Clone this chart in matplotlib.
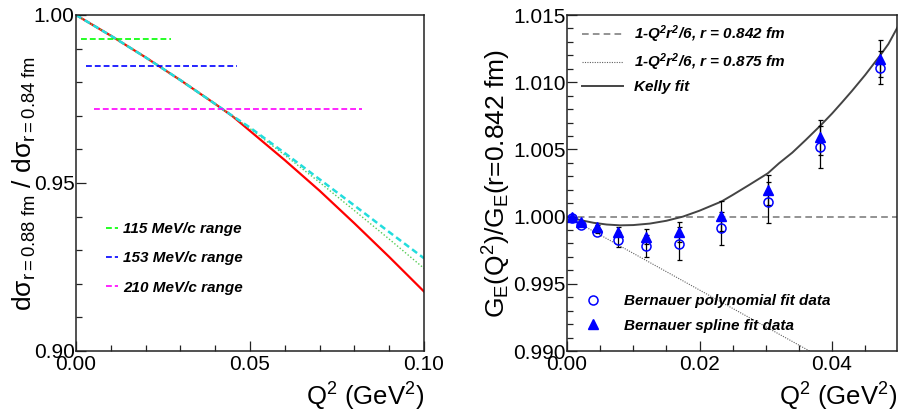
# cross section ratio and G_E ratio, two panels

import matplotlib
matplotlib.use("Agg")
import matplotlib.pyplot as plt
from matplotlib.ticker import MultipleLocator, FormatStrFormatter

plt.rcParams['font.family'] = ['Liberation Sans', 'DejaVu Sans']
plt.rcParams['mathtext.fontset'] = 'custom'
plt.rcParams['mathtext.rm'] = 'Liberation Sans'
plt.rcParams['mathtext.it'] = 'Liberation Sans:italic'
plt.rcParams['mathtext.bf'] = 'Liberation Sans:bold'
plt.rcParams['mathtext.default'] = 'regular'

# left panel: ratio of cross sections r=0.88 fm / r=0.84 fm
q2_left = [0.0, 0.01, 0.02, 0.03, 0.04, 0.045, 0.05, 0.06, 0.07, 0.08, 0.09, 0.10]
ratio_red = [1.0, 0.99385, 0.98739, 0.98061, 0.97352, 0.96985, 0.9655, 0.9568, 0.9477, 0.9380, 0.9280, 0.9177]
ratio_green = [1.0, 0.99385, 0.98739, 0.98061, 0.97352, 0.96990, 0.9662, 0.9583, 0.9502, 0.9418, 0.9333, 0.9246]
ratio_cyan = [1.0, 0.99385, 0.98739, 0.98061, 0.97352, 0.96995, 0.9665, 0.9589, 0.9511, 0.9433, 0.9354, 0.9276]

# momentum ranges: level, start, end
range_labels = ["115 MeV/c range", "153 MeV/c range", "210 MeV/c range"]
range_level = [0.9929, 0.9849, 0.9720]
range_start = [0.0014, 0.0028, 0.0053]
range_end = [0.0272, 0.0462, 0.0821]
range_colors = ["#00ff00", "#0000ff", "#ff00ff"]

# right panel: G_E ratio
q2_data = [0.0007, 0.0021, 0.0045, 0.0077, 0.0119, 0.0169, 0.0233, 0.0303, 0.0382, 0.0473]
poly_val = [0.99987, 0.99940, 0.99888, 0.99828, 0.99781, 0.99799, 0.99913, 1.00105, 1.00517, 1.01108]
poly_err = [0.00005, 0.0001, 0.0001, 0.00055, 0.00084, 0.0012, 0.00124, 0.00151, 0.00157, 0.00124]
spline_val = [1.00000, 0.99962, 0.99925, 0.99888, 0.99850, 0.99888, 1.00002, 1.00199, 1.00590, 1.01175]
spline_err = [0.00003, 0.00008, 0.0001, 0.00035, 0.00055, 0.00074, 0.00112, 0.00112, 0.00129, 0.00139]

q2_kelly = [0.0, 0.002, 0.004, 0.006, 0.008, 0.010, 0.0125, 0.015, 0.0175, 0.020,
            0.0215, 0.0233, 0.025, 0.0275, 0.0303, 0.032, 0.034, 0.036, 0.0383,
            0.040, 0.0415, 0.043, 0.045, 0.0473, 0.0485, 0.050]
kelly = [1.0, 0.99974, 0.99954, 0.99941, 0.99935, 0.99937, 0.99948, 0.99969, 1.0, 1.00044,
         1.00075, 1.00112, 1.00161, 1.00236, 1.00322, 1.00397, 1.00476, 1.00569, 1.00680,
         1.00767, 1.00850, 1.00935, 1.01054, 1.01202, 1.01284, 1.01420]

q2_flat = [0.0, 0.05]
flat = [1.0, 1.0]
q2_875 = [0.0, 0.0366]
val_875 = [1.0, 0.990]

fig = plt.figure(figsize=(8.98, 4.18), dpi=100)
ax1 = fig.add_axes([76 / 898, 1 - 351 / 418, 348 / 898, 336 / 418])
ax2 = fig.add_axes([567 / 898, 1 - 351 / 418, 330 / 898, 336 / 418])

legend_font = {'family': 'Liberation Sans', 'weight': 'bold', 'style': 'italic', 'size': 11}


def style_axis(ax):
    for s in ax.spines.values():
        s.set_linewidth(1.1)
        s.set_color('#222222')
    ax.tick_params(which='both', direction='in', top=False, right=False,
                   labelsize=15, width=0.9, color='#222222')
    ax.tick_params(which='major', length=7.5)
    ax.tick_params(which='minor', length=4.5)
    ax.tick_params(axis='y', pad=1)
    ax.tick_params(axis='x', pad=3)


# left panel
ax1.plot(q2_left, ratio_red, color='#ff0000', lw=1.6)
ax1.plot(q2_left, ratio_green, color='#55cc55', lw=1.0, ls=(0, (1, 1.5)))
ax1.plot(q2_left, ratio_cyan, color='#22dddd', lw=1.8, ls=(0, (2.5, 1.5)))
for lab, lev, x0, x1, c in zip(range_labels, range_level, range_start, range_end, range_colors):
    ax1.plot([x0, x1], [lev, lev], color=c, lw=1.2, ls=(0, (3.5, 1.8)), label=lab)

ax1.set_xlim(0, 0.1)
ax1.set_ylim(0.90, 1.00)
ax1.xaxis.set_major_locator(MultipleLocator(0.05))
ax1.xaxis.set_minor_locator(MultipleLocator(0.01))
ax1.yaxis.set_major_locator(MultipleLocator(0.05))
ax1.yaxis.set_minor_locator(MultipleLocator(0.01))
ax1.xaxis.set_major_formatter(FormatStrFormatter('%.2f'))
ax1.yaxis.set_major_formatter(FormatStrFormatter('%.2f'))
style_axis(ax1)

ax1.legend(loc='upper left', bbox_to_anchor=(0.086, 0.384), frameon=False, prop=legend_font,
           handlelength=0.8, handletextpad=0.35, labelspacing=1.0, borderpad=0, borderaxespad=0)

ax1.set_xlabel('Q$^{2}$ (GeV$^{2}$)', fontsize=18.5)
ax1.xaxis.set_label_coords(1.0, -0.09)
ax1.xaxis.label.set_ha('right')
ax1.set_ylabel('dσ$_{r=0.88\\ fm}$ / dσ$_{r=0.84\\ fm}$', fontsize=19)
ax1.yaxis.set_label_coords(-0.108, 0.5)

# right panel
ax2.plot(q2_flat, flat, color='#808080', lw=1.2, ls=(0, (4, 2.5)),
         label='1-Q$^{2}$r$^{2}$/6, r = 0.842 fm')
ax2.plot(q2_875, val_875, color='#606060', lw=0.8, ls=(0, (1, 1.2)),
         label='1-Q$^{2}$r$^{2}$/6, r = 0.875 fm')
ax2.plot(q2_kelly, kelly, color='#444444', lw=1.4, label='Kelly fit')
leg_top = ax2.legend(loc='upper left', bbox_to_anchor=(0.045, 0.975), frameon=False,
                     prop=legend_font, handlelength=2.7, handletextpad=0.7,
                     labelspacing=0.45, borderpad=0, borderaxespad=0)
ax2.add_artist(leg_top)

ax2.errorbar(q2_data, poly_val, yerr=poly_err, fmt='none', ecolor='black', elinewidth=0.9,
             capsize=1.8, capthick=0.9)
ax2.errorbar(q2_data, spline_val, yerr=spline_err, fmt='none', ecolor='black', elinewidth=0.9,
             capsize=1.8, capthick=0.9)
h1, = ax2.plot(q2_data, poly_val, ls='none', marker='o', ms=6.5, mfc='none', mec='#0000ff', mew=1.1)
h2, = ax2.plot(q2_data, spline_val, ls='none', marker='^', ms=6.8, color='#0000ff')
ax2.legend([h1, h2], ['Bernauer polynomial fit data', 'Bernauer spline fit data'],
           loc='upper left', bbox_to_anchor=(0.044, 0.17), frameon=False, prop=legend_font,
           handlelength=1.5, handletextpad=1.25, labelspacing=0.7, borderpad=0,
           borderaxespad=0, numpoints=1)

ax2.set_xlim(0, 0.0498)
ax2.set_ylim(0.990, 1.015)
ax2.xaxis.set_major_locator(MultipleLocator(0.02))
ax2.xaxis.set_minor_locator(MultipleLocator(0.005))
ax2.yaxis.set_major_locator(MultipleLocator(0.005))
ax2.yaxis.set_minor_locator(MultipleLocator(0.001))
ax2.xaxis.set_major_formatter(FormatStrFormatter('%.2f'))
ax2.yaxis.set_major_formatter(FormatStrFormatter('%.3f'))
style_axis(ax2)

ax2.set_xlabel('Q$^{2}$ (GeV$^{2}$)', fontsize=18.5)
ax2.xaxis.set_label_coords(1.0, -0.09)
ax2.xaxis.label.set_ha('right')
ax2.set_ylabel('G$_{E}$(Q$^{2}$)/G$_{E}$(r=0.842 fm)', fontsize=19)
ax2.yaxis.set_label_coords(-0.165, 0.5)

fig.savefig('out.png', dpi=100)
